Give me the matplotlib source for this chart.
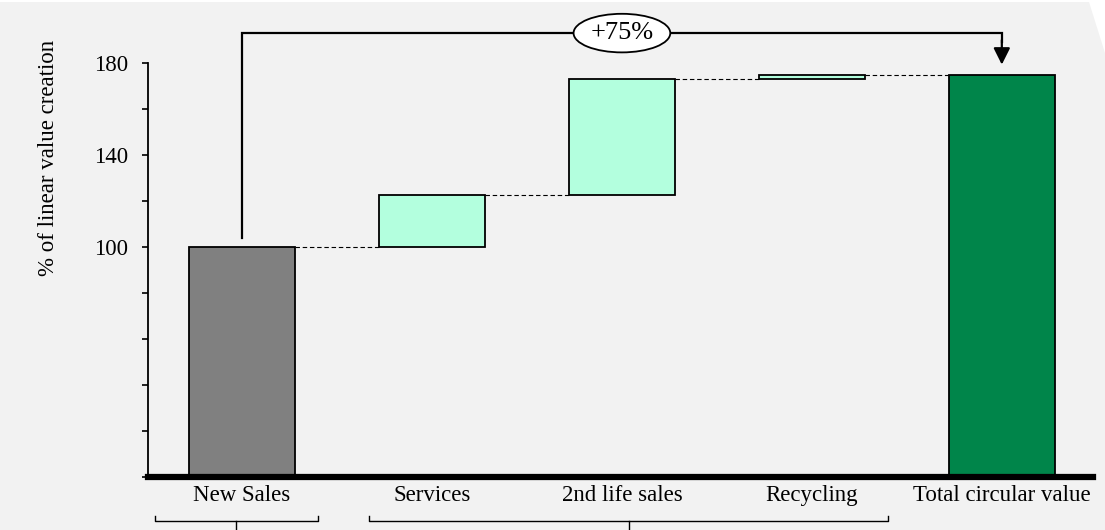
import matplotlib.pyplot as plt
from matplotlib.patches import Polygon
from matplotlib.transforms import blended_transform_factory

# waterfall data (% of linear value creation)
categories = ['New Sales', 'Services', '2nd life sales', 'Recycling', 'Total circular value']
steps = [100, 22.5, 50.5, 2.0]          # new sales, then the increments
total = 175
uplift_label = '+75%'
ytick_vals = list(range(0, 181, 20))
ytick_shown = [100, 140, 180]
groups = [(-0.46, 0.40), (0.67, 3.40)]   # brackets under the categories

grey, mint, green = '#808080', '#b3ffde', '#00854a'
bg = '#f2f2f2'
plt.rcParams['font.family'] = ['Liberation Serif', 'DejaVu Serif']

fig = plt.figure(figsize=(11.05, 5.3), dpi=100)
fig.patch.set_facecolor('white')
# grey backdrop with a clipped top-right corner
fig.patches.append(Polygon([(0, 0), (1, 0), (1, 1 - 53 / 530), (1089 / 1105, 1 - 2 / 530),
                            (0, 1 - 2 / 530)], closed=True, transform=fig.transFigure,
                           fc=bg, ec='none', zorder=-10))

ax = fig.add_axes([148 / 1105, 53 / 530, (1093 - 148) / 1105, 477 / 530])
ax.set_facecolor('none')

w = 0.56
# bases and heights
bottoms = [0]
heights = [steps[0]]
run = steps[0]
for s in steps[1:]:
    bottoms.append(run)
    heights.append(s)
    run += s
bottoms.append(0)
heights.append(total)
colors = [grey] + [mint] * (len(steps) - 1) + [green]

x = list(range(len(categories)))
ax.bar(x, heights, bottom=bottoms, width=w, color=colors, edgecolor='black', linewidth=1.3, zorder=3)

# dashed connectors
tops = [b + h for b, h in zip(bottoms, heights)]
levels = [tops[0]] + tops[1:-1]
for i in range(len(categories) - 1):
    ax.plot([x[i] + w / 2, x[i + 1] - w / 2], [levels[i], levels[i]], color='black',
            lw=0.8, ls=(0, (4, 2.5)), zorder=2)

# uplift bracket with arrow
yb = 193
ax.plot([x[0], x[0], x[-1], x[-1]], [tops[0] + 4, yb, yb, yb - 4], color='black', lw=1.6,
        solid_joinstyle='miter', zorder=4)
ax.annotate('', xy=(x[-1], total + 4.3), xytext=(x[-1], yb - 3),
            arrowprops=dict(arrowstyle='-|>,head_length=1.0,head_width=0.5', color='black',
                            lw=1.6, shrinkA=0, shrinkB=0), zorder=4)
ax.text((x[0] + x[-1]) / 2, yb, uplift_label, ha='center', va='center', fontsize=19, zorder=5,
        bbox=dict(boxstyle='ellipse,pad=0.1', fc='white', ec='black', lw=1.3))

ax.set_xlim(-0.495, 4.48)
ax.set_ylim(0, 477 / 2.3)
ax.set_xticks(x)
ax.set_xticklabels(categories, fontsize=16.5)
ax.set_yticks(ytick_vals)
ax.set_yticklabels([str(v) if v in ytick_shown else '' for v in ytick_vals], fontsize=16.5)
ax.tick_params(axis='x', length=0, pad=6)
ax.tick_params(axis='y', length=4.5, width=1.2, pad=10)
for s in ['top', 'right']:
    ax.spines[s].set_visible(False)
ax.spines['left'].set_bounds(0, 180)
ax.spines['left'].set_linewidth(1.3)
ax.spines['bottom'].set_linewidth(4.5)
ax.spines['bottom'].set_zorder(5)

fig.text(49 / 1105, 1 - 158 / 530, '% of linear value creation', rotation=90,
         ha='center', va='center', fontsize=16.5)

# brackets under the categories
tr = blended_transform_factory(ax.transData, fig.transFigure)
yh, yup = 9 / 530, 14 / 530
for a, b in groups:
    c = (a + b) / 2
    ax.plot([a, a, b, b], [yup, yh, yh, yup], color='black', lw=1.0, transform=tr, clip_on=False)
    ax.plot([c, c], [yh, 0], color='black', lw=1.0, transform=tr, clip_on=False)

fig.savefig('out.png', dpi=100, facecolor=fig.get_facecolor())
